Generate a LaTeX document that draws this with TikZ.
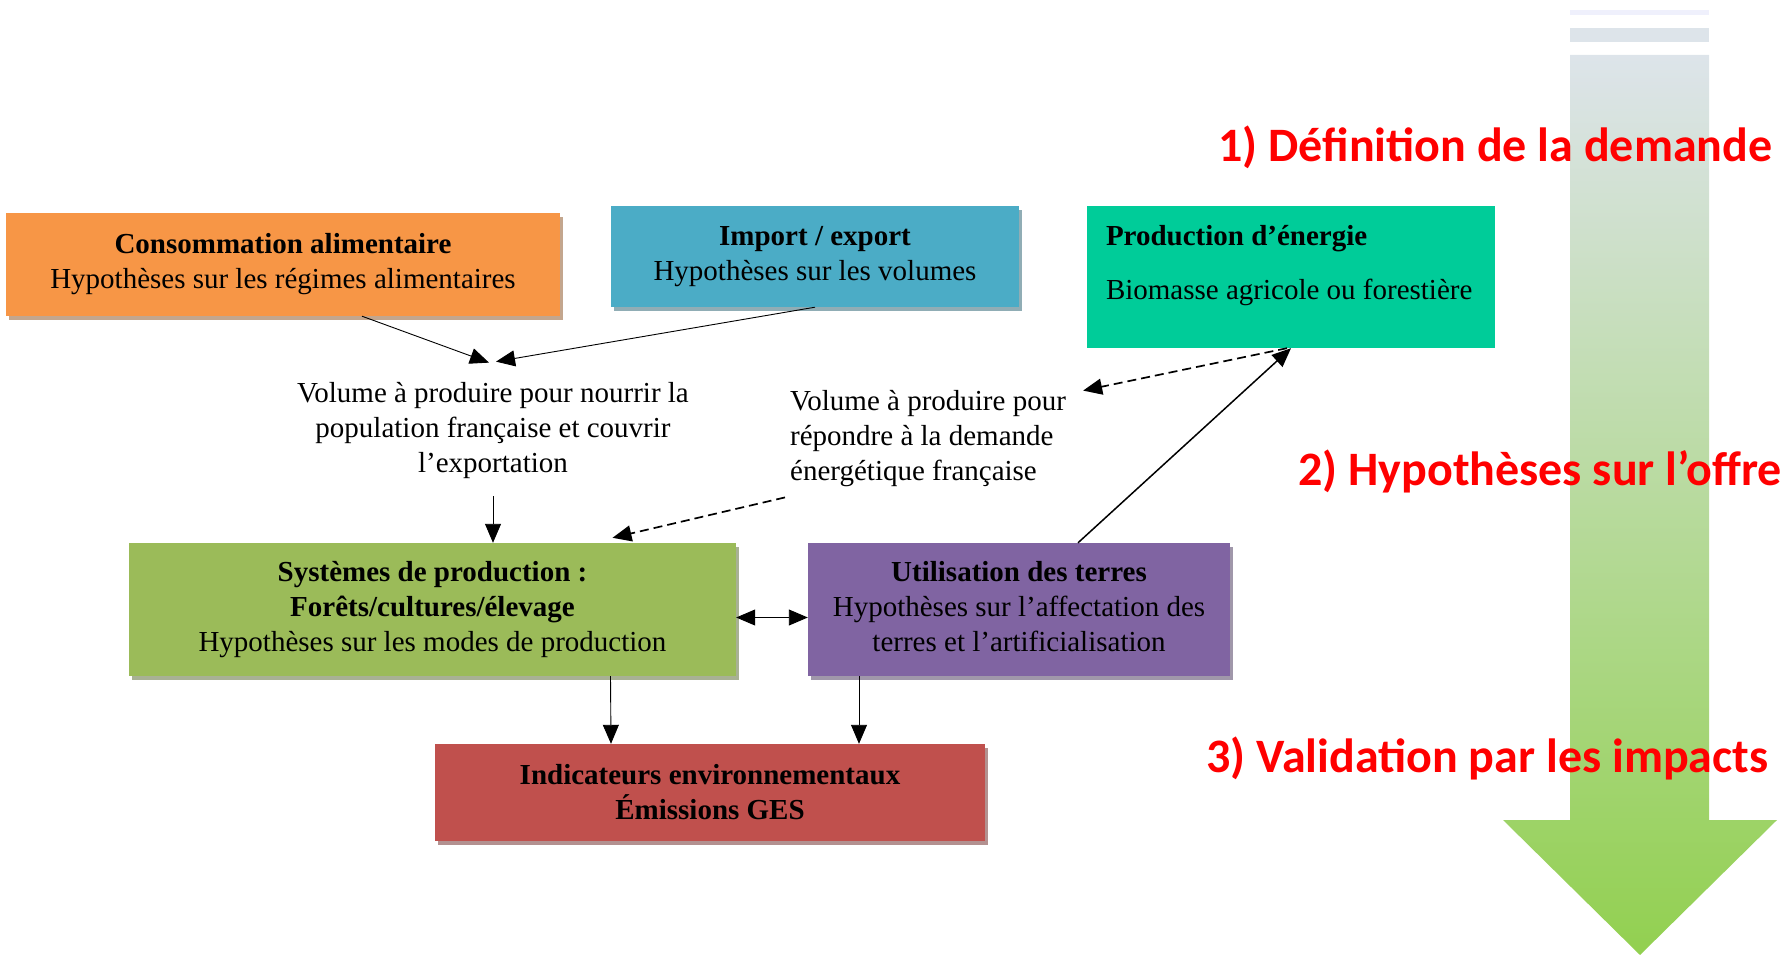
\documentclass[tikz,border=0pt]{standalone}
\usepackage{fontspec}
\setmainfont{Liberation Serif}
\newfontfamily\phasefamily{Carlito}
\usepackage{xcolor}
\usepackage{tikz}
\usetikzlibrary{arrows.meta,shadows,positioning}
\definecolor{consfill}{HTML}{F79646}
\definecolor{impfill}{HTML}{4BACC6}
\definecolor{prodfill}{HTML}{00CC99}
\definecolor{sysfill}{HTML}{9BBB59}
\definecolor{utilfill}{HTML}{8064A2}
\definecolor{indfill}{HTML}{C0504D}
\definecolor{flowtop}{HTML}{DDE4EA}
\definecolor{flowbot}{HTML}{92D050}
\newcommand{\boxtext}{\fontsize{29}{35}\selectfont}
\newcommand{\phasetext}{\phasefamily\bfseries\fontsize{48}{58}\selectfont}
\tikzset{
  box/.style={fill=#1, inner sep=0pt, align=center, font=\boxtext,
    general shadow={fill=#1!40!gray!75, shadow xshift=3pt, shadow yshift=-4pt}},
  flat/.style={fill=#1, inner sep=0pt, font=\boxtext},
  txt/.style={inner sep=0pt, font=\boxtext},
  phase/.style={anchor=base west, inner sep=0pt, text=red, font=\phasetext},
  link/.style={line width=0.9pt, -{Triangle[length=19pt,width=16pt]}},
  dlink/.style={line width=1.7pt, dash pattern=on 9pt off 5pt,
    -{Triangle[length=19pt,width=16pt]}},
  slink/.style={line width=1.5pt, -{Triangle[length=19pt,width=16pt]}}
}
\begin{document}
\begin{tikzpicture}[x=1pt,y=-1pt]
    \useasboundingbox (0,0) rectangle (1792,955);
    % big arrow on the right
    \fill[flowtop!80!blue!20!white] (1570,10) rectangle (1709,15);
    \fill[flowtop] (1570,28) rectangle (1709,42);
    \shade[top color=flowtop, bottom color=flowbot] (1570,55) -- (1709,55)
      -- (1709,820) -- (1777,820) -- (1640,955) -- (1503,820) -- (1570,820) -- cycle;
    \node (ph1) [phase] at (1218,162) {1) Définition de la demande};
    \node (ph2) [phase] at (1298,485) {2) Hypothèses sur l’offre};
    \node (ph3) [phase] at (1206,772) {3) Validation par les impacts};

    \node (cons) [box=consfill,minimum width=554pt,minimum height=103pt]
      at (283,264.5) {\textbf{Consommation alimentaire}\\Hypothèses sur les régimes alimentaires};
    \node (imp) [box=impfill,minimum width=408pt,minimum height=101pt]
      at (815,256.5) {\textbf{Import / export}\\Hypothèses sur les volumes};
    \node (prod) [flat=prodfill,inner xsep=19pt,inner ysep=19pt] at (1291,277)
      {\parbox[c][104pt][t]{370pt}{\textbf{Production d’énergie}\\[19pt]Biomasse agricole ou forestière}};
    \node (sys) [box=sysfill,minimum width=607pt,minimum height=133pt]
      at (432.5,609.5) {\textbf{Systèmes de production :}\\\textbf{Forêts/cultures/élevage}\\Hypothèses sur les modes de production};
    \node (util) [box=utilfill,minimum width=422pt,minimum height=133pt]
      at (1019,609.5) {\textbf{Utilisation des terres}\\Hypothèses sur l’affectation des\\terres et l’artificialisation\vphantom{p}};
    \node (ind) [box=indfill,minimum width=550pt,minimum height=97pt]
      at (710,792.5) {\textbf{Indicateurs environnementaux}\\\textbf{Émissions GES}};

    \node (vol1) [txt,align=center] at (493,431)
      {Volume à produire pour nourrir la\\population française et couvrir\\l’exportation};
    \node (vol2) [txt,align=left,anchor=west] at (790,439)
      {Volume à produire pour\\répondre à la demande\\énergétique française};

    \path ([xshift=79pt]cons.south) edge [link] ([xshift=-4pt,yshift=20pt]vol1.north);
    \path (imp.south) edge [link] ([xshift=3pt,yshift=21pt]vol1.north);
    \path ([yshift=-17pt]vol1.south) edge [link] (vol1.south |- sys.north);
    \path ([xshift=-5pt,yshift=-10pt]vol2.south west) edge [dlink] ([xshift=180pt,yshift=5pt]sys.north);
    \path ([xshift=-4pt]prod.south) edge [dlink] ([xshift=17pt]vol2.north east);
    \path ([xshift=59pt]util.north) edge [slink] (prod.south);
    \path ([yshift=-8pt]sys.east) edge [line width=0.9pt,{Triangle[length=19pt,width=16pt]}-{Triangle[length=19pt,width=16pt]}] ([yshift=-8pt]util.west);
    \path ([xshift=178pt]sys.south) edge [link] ([xshift=-99pt]ind.north);
    \path ([xshift=-160pt]util.south) edge [link] ([xshift=149pt]ind.north);
\end{tikzpicture}
\end{document}
